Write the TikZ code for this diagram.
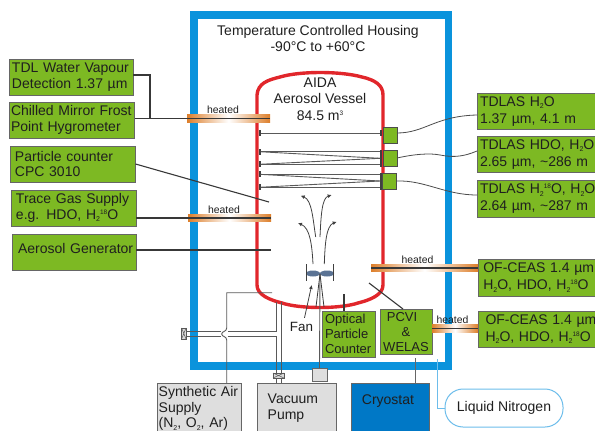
\documentclass[tikz,border=0pt]{standalone}
\usepackage{fontspec}
\setmainfont{Liberation Sans}
\usetikzlibrary{arrows.meta,positioning,shapes.geometric}
\definecolor{housingblue}{HTML}{0A93DC}
\definecolor{cryoblue}{HTML}{0078C6}
\definecolor{vesselred}{HTML}{E1262B}
\definecolor{boxgreen}{HTML}{7DB923}
\definecolor{tubeorange}{HTML}{DD7F2B}
\definecolor{nitroblue}{HTML}{6DBDEB}
\definecolor{fanblue}{HTML}{5B7394}
\newcommand{\lowidx}[1]{\raisebox{-2.5pt}{\fontsize{7}{7}\selectfont #1}}
\newcommand{\highidx}[1]{\raisebox{5pt}{\fontsize{6.5}{7}\selectfont #1}}
\begin{document}
\begin{tikzpicture}[
    x=1pt, y=-1pt,
    every node/.style={outer sep=0pt, text=black!88},
    greenbox/.style={draw=black!60, line width=1pt, fill=boxgreen, align=left, anchor=north west, minimum height=36pt, font=\fontsize{14}{15.6}\selectfont},
    rightbox/.style={greenbox, font=\fontsize{14}{17}\selectfont},
    smallbox/.style={greenbox, font=\fontsize{13}{15}\selectfont},
    greybox/.style={draw=black!60, line width=1pt, fill=black!13, align=left, anchor=north west, minimum height=50pt, font=\fontsize{14}{15.6}\selectfont},
    cell/.style={draw=black!70, line width=1pt, fill=boxgreen, minimum width=14pt, minimum height=16pt, inner sep=0pt},
    heatpipe/.style={left color=tubeorange, right color=tubeorange, middle color=white, minimum height=7.5pt, inner sep=0pt},
    heatlabel/.style={inner sep=0pt, font=\fontsize{10.4}{12}\selectfont},
    title/.style={align=center, font=\fontsize{14}{16}\selectfont},
    mirror/.style={fill=black!75, minimum width=2pt, minimum height=6pt, inner sep=0pt},
    valve/.style={draw=black!65, line width=0.7pt, fill=black!15, inner sep=0pt},
    blade/.style={ellipse, fill=fanblue, minimum width=14pt, minimum height=6pt, inner sep=0pt},
    line/.style={black!78, line width=1.1pt},
    thinline/.style={black!65, line width=0.9pt},
    fibre/.style={black!70, line width=0.8pt},
    flow/.style={black!75, line width=0.8pt, -{Latex[length=4pt,width=4pt]}}
]
\useasboundingbox (0,0) rectangle (595,431);
\clip (0,0) rectangle (595,431);
\draw[housingblue, line width=7.5pt] (194,15) rectangle (448.5,366);
\draw[vesselred, line width=3.4pt] (257,285) -- (257,95) .. controls (258,83) and (268,80) .. (280,77) .. controls (300,71) and (340,71) .. (362,77) .. controls (375,80) and (383,85) .. (383,95) -- (383,285) .. controls (383,295) and (370,300) .. (358,303) .. controls (340,309) and (300,309) .. (282,303) .. controls (270,300) and (257,295) .. (257,285) -- cycle;
\node[title] (housing) at (318,38) {Temperature Controlled Housing\\-90°C to +60°C};
\node[title] (vessel) at (320,99.5) {AIDA\\Aerosol Vessel\\[1.5pt]84.5 m\highidx{3}};

\node[greenbox, text width=118pt, inner xsep=3pt] (tdl) at (9,59) {TDL Water Vapour\\Detection 1.37 µm};
\node[greenbox, text width=122pt, inner xsep=1.5pt, below=7pt of tdl.south west, anchor=north west, xshift=0.5pt] (chilled) {Chilled Mirror Frost\\Point Hygrometer};
\node[greenbox, text width=116pt, inner xsep=4.5pt, below=8pt of chilled.south west, anchor=north west, xshift=1pt] (cpc) {Particle counter\\CPC 3010};
\node[greenbox, text width=115pt, inner xsep=5pt, below=8pt of cpc.south west, anchor=north west, xshift=0.5pt] (trace) {Trace Gas Supply\\e.g. HDO, H\lowidx{2}\highidx{18}O};
\node[greenbox, text width=118pt, inner xsep=3pt, below=8pt of trace.south west, anchor=north west, xshift=1pt, text depth=8pt] (generator) {\hspace*{3pt}\mbox{Aerosol Generator}};

\node[rightbox, text width=130pt, inner xsep=3pt] (tdlasa) at (477,93) {TDLAS H\lowidx{2}O\\1.37 µm, 4.1 m};
\node[rightbox, text width=130pt, inner xsep=3pt, below=7pt of tdlasa.south west, anchor=north west] (tdlasb) {TDLAS HDO, H\lowidx{2}O\\2.65 µm, \textasciitilde 286 m};
\node[rightbox, text width=130pt, inner xsep=3pt, below=8pt of tdlasb.south west, anchor=north west] (tdlasc) {TDLAS H\lowidx{2}\highidx{18}O, H\lowidx{2}O\\2.64 µm, \textasciitilde 287 m};
\node[rightbox, text width=130pt, inner xsep=5.3pt, minimum height=37pt] (ceasa) at (478,259) {OF-CEAS 1.4 µm\\H\lowidx{2}O, HDO, H\lowidx{2}\highidx{18}O};
\node[rightbox, text width=130pt, inner xsep=7.5pt, minimum height=36pt] (ceasb) at (478,311) {OF-CEAS 1.4 µm\\H\lowidx{2}O, HDO, H\lowidx{2}\highidx{18}O};

\node[smallbox, text width=47pt, inner xsep=3pt, minimum height=44pt] (optical) at (322,311) {Optical\\Particle\\Counter};
\node[smallbox, align=center, minimum width=52pt, minimum height=45pt, inner xsep=0pt] (pcvi) at (380,309) {PCVI\hspace*{8pt}\\\&\hspace*{8pt}\\WELAS};

\node[cell] (cella) at (390,135) {};
\node[cell] (cellb) at (390,158) {};
\node[cell] (cellc) at (389.5,181) {};

\node[greybox, text width=81pt, inner xsep=1.7pt] (air) at (157,383) {Synthetic Air\\Supply\\(N\lowidx{2}, O\lowidx{2}, Ar)};
\node[greybox, text width=58pt, inner xsep=10.7pt] (pump) at (257,383) {Vacuum\\Pump};
\node[draw=black!60, line width=1pt, fill=cryoblue, anchor=north west, minimum width=78pt, align=center, inner ysep=12pt, text depth=40pt, font=\fontsize{14}{16}\selectfont] (cryostat) at (351,383) {Cryostat\hspace*{4pt}};
\node[draw=nitroblue, line width=1pt, fill=white, rounded corners=18pt, minimum width=118pt, minimum height=38pt, font=\fontsize{14}{16}\selectfont] (nitrogen) at (504,408) {Liquid Nitrogen};
\node[draw=black!60, line width=0.8pt, fill=black!13, minimum width=15pt, minimum height=13pt, inner sep=0pt] (rodbox) at (319.5,374.5) {};

\node[heatpipe, minimum width=83pt] (heata) at (228.5,118.5) {};
\node[heatpipe, minimum width=83pt] (heatb) at (229.5,218) {};
\node[heatpipe, minimum width=107pt] (heatc) at (424.5,268) {};
\node[heatpipe, minimum width=46pt] (heatd) at (455,328.5) {};
\node[heatlabel, above=1pt of heata, xshift=-5.5pt] (labela) {heated};
\node[heatlabel, above=1pt of heatb, xshift=-5.5pt] (labelb) {heated};
\node[heatlabel, above=1pt of heatc, xshift=-7pt] (labelc) {heated};
\node[heatlabel, above=1pt of heatd, xshift=-2.5pt] (labeld) {heated};

\coordinate (tdljoin) at (150,118.5);
\coordinate (cpcend) at (269,202);
\coordinate (generatorend) at (271,250);
\coordinate (pcviend) at (369,283);
\coordinate (opticalend) at (344,294);
\draw[line] ([yshift=2pt]tdl.east) -| (tdljoin);
\draw[line] (chilled.east |- heata) -- (heata.east);
\draw[line] (cpc.east) -- (cpcend);
\draw[line] (trace.east |- heatb) -- (heatb.east);
\draw[line] (generator.east |- generatorend) -- (generatorend);
\draw[line] (heatc.west) -- (ceasa.west |- heatc);
\draw[line] (pcvi.east |- heatd) -- (ceasb.west |- heatd);
\draw[line] (optical.north -| opticalend) -- (opticalend);
\draw[line] (pcviend) -- (403,309);

\draw[fibre] (cella.east) ++(0,-2) .. controls (425,133) and (435,116) .. (tdlasa.west |- 0,115);
\draw[fibre] (cellb.east) .. controls (415,154) and (430,153) .. (440,155) .. controls (455,158) and (465,156) .. (tdlasb.west |- 0,151);
\draw[fibre] (cellc.east) .. controls (425,180) and (445,195) .. (tdlasc.west |- 0,195);

\node[mirror] (mla) at (259.5,133.3) {};
\node[mirror] (mlb) at (259.5,151.7) {};
\node[mirror] (mlc) at (259.5,164.3) {};
\node[mirror] (mld) at (259.5,174.3) {};
\node[mirror] (mle) at (259.5,187.3) {};
\node[mirror] (mra) at (381,133.3) {};
\node[mirror, minimum height=17pt] (mrb) at (381,158.3) {};
\node[mirror, minimum height=17pt] (mrc) at (381,181) {};
\draw[thinline] (mla) -- (mra);
\draw[thinline] (mlb) -- (mlb -| mrb.west);
\draw[thinline] (mlc) -- (mlc -| mrb.west);
\draw[thinline] (mld) -- (mld -| mrc.west);
\draw[thinline] (mle) -- (mle -| mrc.west);
\draw[thinline] (mlb) -- (mrb.west);
\draw[thinline] (mlc) -- (mrb.west);
\draw[thinline] (mld) -- (mrc.west);
\draw[thinline] (mle) -- (mrc.west);

\node[blade] (bladel) at (313,273.5) {};
\node[blade] (blader) at (327,273.5) {};
\coordinate (hub) at (320,274);
\node[mirror, minimum width=1pt, minimum height=17pt] (fanl) at (306,272.5) {};
\node[mirror, minimum width=1pt, minimum height=17pt] (fanr) at (333,272.5) {};
\draw[thinline] (hub) -- (rodbox.north);
\draw[line, line width=0.8pt] (hub) -- (316,307);
\draw[line, line width=0.8pt] (hub) -- (324,307);
\node (fan) at (301.5,326.5) [font=\fontsize{13.4}{16}\selectfont, inner sep=0pt] {Fan};
\draw[flow] (fan.north) ++(3,-4) -- (311.7,285);
\draw[flow] (315.7,237) .. controls (313,220) and (312,200) .. (300.7,195.7);
\draw[flow] (320,237) .. controls (321,215) and (322,198) .. (331.7,195);
\draw[flow] (313,264) .. controls (312,245) and (310,228) .. (298,223);
\draw[flow] (324.3,264) .. controls (325,245) and (326,226) .. (336.7,221.7);

\coordinate (airend) at (272,292.7);
\coordinate (upa) at (276,302);
\coordinate (upb) at (281,302);
\draw[thinline] (air.north -| 226.7,0) -- (226.7,340) .. controls (226.7,336) and (221.7,337) .. (221.7,334) .. controls (221.7,331) and (226.7,332) .. (226.7,328) -- (226.7,292.7) -- (airend);
\draw[thinline] (upa) -- (276,331.7) -- (227.5,331.7);
\draw[thinline] (221,331.7) -- (184,331.7);
\draw[thinline] (184,336.7) -- (221,336.7);
\draw[thinline] (227.5,336.7) -- (276,336.7) -- (pump.north -| 276,0);
\draw[thinline] (upb) -- (pump.north -| 281,0);
\node[valve, minimum width=4.5pt, minimum height=11pt] (valvea) at (183.8,333.5) {};
\node[valve, minimum width=11pt, minimum height=5pt] (valveb) at (278.5,375.5) {};
\draw[thinline, line width=0.5pt] (valvea.north west) -- (valvea.south east) (valvea.north east) -- (valvea.south west);
\draw[thinline, line width=0.5pt] (valveb.north west) -- (valveb.south east) (valveb.north east) -- (valveb.south west);

\coordinate (cryotop) at (415,358);
\coordinate (nitrotop) at (437,359);
\draw[black!60, line width=1pt] (cryotop) -- (cryostat.north -| cryotop);
\draw[nitroblue, line width=1pt] (nitrotop) |- (nitrogen.west);
\end{tikzpicture}
\end{document}
